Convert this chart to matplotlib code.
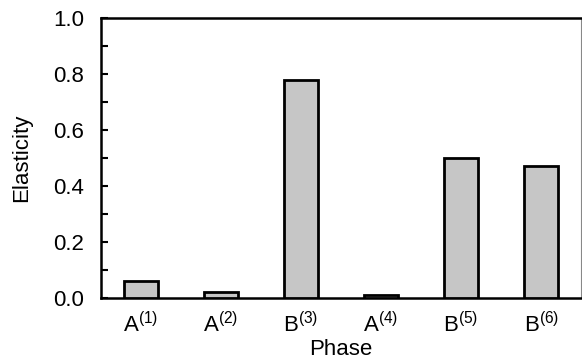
import matplotlib
matplotlib.use("Agg")
import matplotlib.pyplot as plt
import numpy as np

plt.rcParams['font.family'] = ['Liberation Sans', 'DejaVu Sans']
plt.rcParams['mathtext.fontset'] = 'custom'
plt.rcParams['mathtext.rm'] = 'Liberation Sans'
plt.rcParams['mathtext.it'] = 'Liberation Sans'

phases = ['A', 'A', 'B', 'A', 'B', 'B']
elasticity = [0.06, 0.02, 0.78, 0.01, 0.50, 0.47]

labels = [r'$\mathrm{%s}^{(%d)}$' % (p, i + 1) for i, p in enumerate(phases)]
x = np.arange(len(phases))

fig = plt.figure(figsize=(5.82, 3.62), dpi=100)
ax = fig.add_axes([0.1735, 0.177, 0.825, 0.773])

ax.bar(x, elasticity, width=0.42, color='#c6c6c6', edgecolor='black', linewidth=2.0, zorder=3)

ax.set_xlim(-0.5, 5.5)
ax.set_ylim(0, 1.0)
ax.set_xticks(x)
ax.set_xticklabels(labels, fontsize=16)
ax.tick_params(axis='x', length=0, pad=10)
ax.set_yticks(np.arange(0, 1.01, 0.2))
ax.set_yticks(np.arange(0.1, 1.0, 0.2), minor=True)
ax.yaxis.set_major_formatter(matplotlib.ticker.FormatStrFormatter('%.1f'))
ax.tick_params(axis='y', which='both', direction='in', length=5, width=1.5, labelsize=16, pad=12)

for s in ['left', 'bottom', 'top']:
    ax.spines[s].set_linewidth(1.8)
ax.spines['right'].set_linewidth(0.8)
ax.spines['right'].set_color('#888888')

ax.set_xlabel('Phase', fontsize=16, labelpad=1.5)
ax.set_ylabel('Elasticity', fontsize=16, labelpad=15)

fig.savefig('out.png', dpi=100)
